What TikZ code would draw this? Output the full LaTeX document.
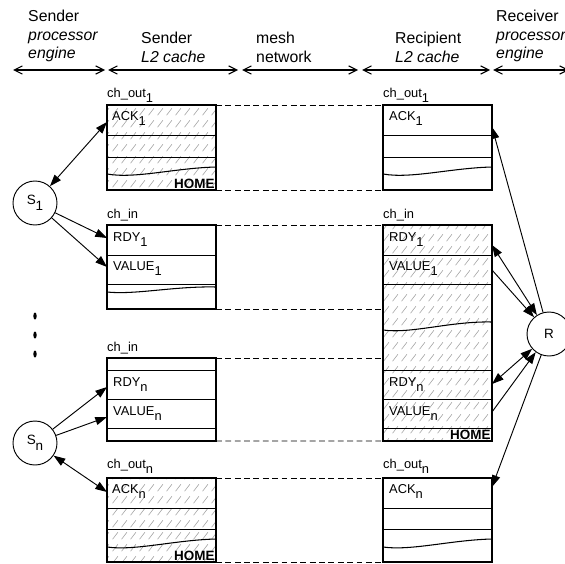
\documentclass[tikz,border=0pt]{standalone}
\usepackage{fontspec}
\setmainfont{Liberation Sans}
\usetikzlibrary{arrows.meta, patterns}

\pgfdeclarepatternformonly{dashhatch}{\pgfpointorigin}{\pgfpoint{8pt}{10pt}}{\pgfpoint{8pt}{10pt}}{%
  \pgfsetlinewidth{0.5pt}%
  \pgfpathmoveto{\pgfpoint{0.5pt}{0.63pt}}%
  \pgfpathlineto{\pgfpoint{5.4pt}{6.75pt}}%
  \pgfusepath{stroke}}
\newcommand{\lo}[1]{\raisebox{-0.45em}{#1}}

\begin{document}
\begin{tikzpicture}[
    x=0.03cm, y=-0.03cm,
    font=\fontsize{11}{13}\selectfont,
    hdr/.style={anchor=north west, align=left, inner sep=0, font=\fontsize{13.5}{15.7}\selectfont},
    span/.style={{Straight Barb[length=7pt,width=7pt]}-{Straight Barb[length=7pt,width=7pt]}, line width=0.95pt},
    cachebox/.style={draw, line width=1.1pt, anchor=north west, inner sep=0, outer sep=0, minimum width=3.27cm},
    hatched/.style={pattern=dashhatch, pattern color=gray!75},
    row/.style={line width=0.7pt},
    wave/.style={line width=0.9pt},
    link/.style={dash pattern=on 5pt off 3pt, line width=0.8pt},
    proc/.style={draw, circle, minimum size=1.32cm, inner sep=0, line width=0.8pt, font=\fontsize{11.5}{13}\selectfont},
    arr/.style={-{Triangle[length=10pt,width=7pt]}, line width=0.8pt},
    darr/.style={{Triangle[length=10pt,width=7pt]}-{Triangle[length=10pt,width=7pt]}, line width=0.8pt},
    lbl/.style={anchor=base west, inner sep=0},
    home/.style={anchor=south east, inner sep=1pt, font=\fontsize{11.5}{13}\selectfont\bfseries}
]
    \useasboundingbox (0,0) rectangle (565,563);

    % column headings
    \node[hdr] (hsend) at (28,10) {Sender\\\textit{processor}\\\textit{engine}};
    \node[hdr] (hscache) at (141,32) {Sender\\\textit{L2 cache}};
    \node[hdr] (hmesh) at (256,32) {mesh\\network};
    \node[hdr] (hrcache) at (395,32) {Recipient\\\textit{L2 cache}};
    \node[hdr] (hrecv) at (496,10) {Receiver\\\textit{processor}\\\textit{engine}};
    \foreach \a/\b [count=\i] in {13/105, 108/238, 242/358, 362/490, 493/569} {
        \coordinate (sa\i) at (\a,70);
        \coordinate (sb\i) at (\b,70);
        \draw[span] (sa\i) -- (sb\i);
    }

    % sender side cache
    \node[cachebox, hatched, minimum height=2.55cm] (sout1) at (107,105) {};
    \node[cachebox, minimum height=2.52cm] (sin1) at (107,225) {};
    \node[cachebox, minimum height=2.49cm] (sinn) at (107,358) {};
    \node[cachebox, hatched, minimum height=2.52cm] (soutn) at (107,478) {};

    % recipient side cache
    \node[cachebox, minimum height=2.55cm] (rout1) at (383,105) {};
    \node[cachebox, hatched, minimum height=6.48cm] (rin) at (383,225) {};
    \node[cachebox, minimum height=2.52cm] (routn) at (383,478) {};

    \foreach \y in {135,157} {
        \draw[row] (107,\y) -- (216,\y);
        \draw[row] (383,\y) -- (492,\y);
    }
    \foreach \y in {508,529} {
        \draw[row] (107,\y) -- (216,\y);
        \draw[row] (383,\y) -- (492,\y);
    }
    \foreach \y in {255,284} \draw[row] (107,\y) -- (216,\y);
    \foreach \y in {370,399,428} \draw[row] (107,\y) -- (216,\y);
    \foreach \y in {255,284,370,399,428} \draw[row] (383,\y) -- (492,\y);

    \draw[wave] (107,174) .. controls (135,179) and (175,168) .. (216,167);
    \draw[wave] (383,174) .. controls (411,179) and (451,168) .. (492,167);
    \draw[wave] (107,292) .. controls (135,295) and (175,286) .. (216,287);
    \draw[wave] (383,330) .. controls (411,334) and (451,321) .. (492,322);
    \draw[wave] (107,547) .. controls (135,551) and (175,540) .. (216,539);
    \draw[wave] (383,547) .. controls (411,551) and (451,540) .. (492,539);

    % labels
    \node[lbl] (lsout1) at (107,97) {ch\_out\lo{1}};
    \node[lbl] (lsin1) at (107,218) {ch\_in};
    \node[lbl] (lsinn) at (107,351) {ch\_in};
    \node[lbl] (lsoutn) at (107,468) {ch\_out\lo{n}};
    \node[lbl] (lrout1) at (383,97) {ch\_out\lo{1}};
    \node[lbl] (lrin) at (383,218) {ch\_in};
    \node[lbl] (lroutn) at (383,468) {ch\_out\lo{n}};

    \node[lbl] (tack1) at (112,120) {ACK\lo{1}};
    \node[lbl] (track1) at (389,120) {ACK\lo{1}};
    \node[lbl] (trdy1) at (113,241) {RDY\lo{1}};
    \node[lbl] (tval1) at (113,270) {VALUE\lo{1}};
    \node[lbl] (trdyn) at (113,386) {RDY\lo{n}};
    \node[lbl] (tvaln) at (113,415) {VALUE\lo{n}};
    \node[lbl] (trrdy1) at (389,241) {RDY\lo{1}};
    \node[lbl] (trval1) at (389,270) {VALUE\lo{1}};
    \node[lbl] (trrdyn) at (389,386) {RDY\lo{n}};
    \node[lbl] (trvaln) at (389,415) {VALUE\lo{n}};
    \node[lbl] (tackn) at (112,493) {ACK\lo{n}};
    \node[lbl] (trackn) at (389,493) {ACK\lo{n}};

    \node[home] (home1) at (216,190) {HOME};
    \node[home] (home2) at (492,441) {HOME};
    \node[home] (home3) at (216,562) {HOME};

    % mesh links
    \draw[link] (sout1.north east) -- (rout1.north west);
    \draw[link] (sout1.south east) -- (rout1.south west);
    \draw[link] (sin1.north east) -- (rin.north west);
    \draw[link] (sin1.south east) -- (sin1.south east -| rin.west);
    \draw[link] (sinn.north east) -- (sinn.north east -| rin.west);
    \draw[link] (sinn.south east) -- (rin.south west);
    \draw[link] (soutn.north east) -- (routn.north west);
    \draw[link] (soutn.south east) -- (routn.south west);

    % processors
    \node[proc] (s1) at (35,203) {S\lo{1}};
    \node[proc] (sn) at (35,443) {S\lo{n}};
    \node[proc] (r) at (549,334) {R};
    \foreach \y in {316,335,354} \fill (35,\y) ellipse [x radius=1.7, y radius=3.5];

    \coordinate (ackSa) at (107,122);
    \coordinate (rdySa) at (107,238);
    \coordinate (valSa) at (107,267);
    \coordinate (rdySb) at (107,387);
    \coordinate (valSb) at (107,417);
    \coordinate (ackSb) at (107,492);
    \coordinate (ackRa) at (492,127);
    \coordinate (rdyRa) at (492,245);
    \coordinate (valRa) at (492,270);
    \coordinate (rdyRb) at (492,384);
    \coordinate (valRb) at (492,412);
    \coordinate (ackRb) at (492,487);

    \draw[darr] (s1) -- (ackSa);
    \draw[arr] (s1) -- (rdySa);
    \draw[arr] (s1) -- (valSa);
    \draw[arr] (sn) -- (rdySb);
    \draw[arr] (sn) -- (valSb);
    \draw[darr] (sn) -- (ackSb);

    \draw[arr] (r) -- (ackRa);
    \draw[darr] (rdyRa) -- (r);
    \draw[arr] (valRa) -- (r);
    \draw[darr] (rdyRb) -- (r);
    \draw[arr] (valRb) -- (r);
    \draw[arr] (r) -- (ackRb);

\end{tikzpicture}
\end{document}
